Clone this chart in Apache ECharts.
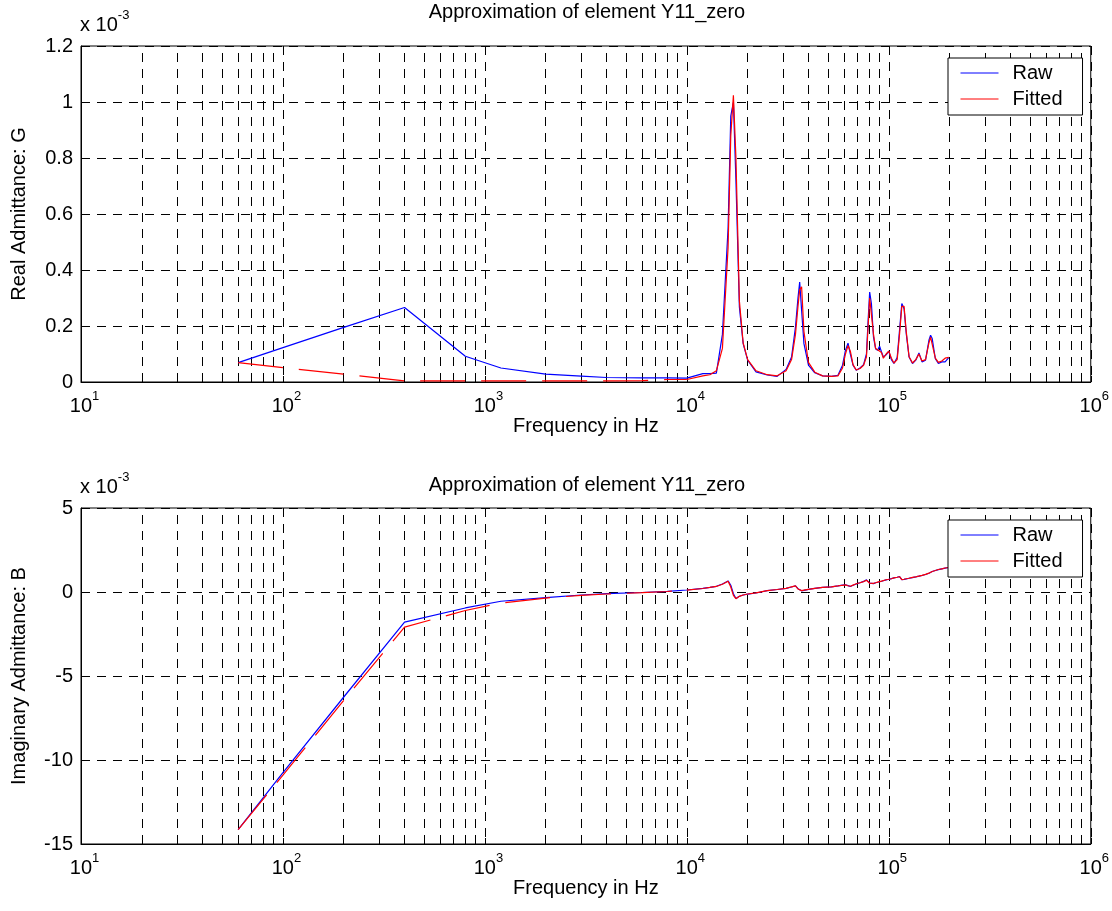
<!DOCTYPE html>
<html>
<head>
<meta charset="utf-8">
<title>Approximation of element Y11_zero</title>
<script src="https://cdn.jsdelivr.net/npm/echarts@6/dist/echarts.min.js"></script>
<style>
  html, body { margin: 0; padding: 0; background: #fff; }
  #main { width: 1112px; height: 911px; }
</style>
</head>
<body>
<div id="main"></div>
<script>
// frequency samples (Hz)
const freq = [60, 100, 200, 400, 800, 1200, 2000, 3000, 4000, 6000,
  8000, 10000, 12000, 13000, 14000, 15000, 16000, 16500, 17000, 17500,
  18200, 19000, 20000, 22000, 25000, 28000, 31000, 33000, 34500, 35500,
  36200, 37000, 38000, 40000, 43000, 47000, 52000, 56000, 59000, 61000,
  62800, 64500, 66500, 69000, 72000, 75000, 77500, 79000, 80400, 82000,
  84000, 86000, 88000, 90000, 92000, 94000, 97000, 100000, 103000, 106000,
  110000, 113000, 116000, 119000, 122000, 126000, 131000, 136000, 141000, 146000,
  152000, 158000, 161000, 164000, 170000, 176000, 183000, 190000, 198000];

// real part G, in units of 1e-3
const rawG = [0.069, 0.123, 0.195, 0.266, 0.092, 0.050, 0.028, 0.021, 0.016, 0.015,
  0.015, 0.014, 0.030, 0.030, 0.032, 0.170, 0.550, 0.950, 1.000, 0.720,
  0.268, 0.137, 0.078, 0.036, 0.025, 0.020, 0.045, 0.089, 0.196, 0.300,
  0.357, 0.256, 0.137, 0.060, 0.033, 0.022, 0.020, 0.024, 0.060, 0.113,
  0.139, 0.100, 0.060, 0.042, 0.050, 0.062, 0.100, 0.220, 0.321, 0.280,
  0.160, 0.119, 0.113, 0.128, 0.107, 0.089, 0.097, 0.110, 0.080, 0.066,
  0.087, 0.185, 0.280, 0.262, 0.173, 0.089, 0.066, 0.078, 0.104, 0.072,
  0.078, 0.149, 0.167, 0.155, 0.083, 0.066, 0.072, 0.072, 0.087];
const fitG = [0.069, 0.051, 0.028, 0.004, 0.004, 0.004, 0.004, 0.004, 0.004, 0.005,
  0.009, 0.009, 0.022, 0.026, 0.040, 0.120, 0.480, 0.880, 1.024, 0.800,
  0.290, 0.140, 0.080, 0.040, 0.026, 0.022, 0.040, 0.080, 0.170, 0.270,
  0.330, 0.340, 0.180, 0.070, 0.035, 0.022, 0.020, 0.022, 0.050, 0.100,
  0.130, 0.110, 0.062, 0.043, 0.048, 0.060, 0.090, 0.200, 0.300, 0.300,
  0.170, 0.120, 0.115, 0.120, 0.105, 0.085, 0.100, 0.110, 0.085, 0.068,
  0.080, 0.170, 0.270, 0.270, 0.180, 0.090, 0.068, 0.080, 0.100, 0.075,
  0.080, 0.140, 0.160, 0.160, 0.085, 0.070, 0.075, 0.085, 0.088];

// imaginary part B, in units of 1e-3
const rawB = [-14.15, -10.75, -6.25, -1.79, -0.95, -0.55, -0.33, -0.18, -0.10, -0.03,
  0.04, 0.12, 0.22, 0.28, 0.34, 0.48, 0.66, 0.40, -0.10, -0.39,
  -0.25, -0.18, -0.13, -0.06, 0.08, 0.15, 0.22, 0.30, 0.37, 0.20,
  0.10, 0.07, 0.10, 0.16, 0.22, 0.28, 0.30, 0.36, 0.41, 0.43,
  0.38, 0.33, 0.40, 0.48, 0.55, 0.63, 0.72, 0.62, 0.53, 0.47,
  0.50, 0.55, 0.58, 0.62, 0.64, 0.68, 0.72, 0.76, 0.80, 0.84,
  0.88, 0.92, 0.74, 0.75, 0.78, 0.82, 0.86, 0.90, 0.94, 0.98,
  1.04, 1.12, 1.18, 1.22, 1.28, 1.33, 1.38, 1.42, 1.46];
const fitB = [-14.15, -10.90, -6.45, -2.09, -1.10, -0.66, -0.36, -0.20, -0.12, -0.04,
  0.03, 0.11, 0.21, 0.27, 0.33, 0.46, 0.64, 0.30, -0.20, -0.40,
  -0.26, -0.18, -0.12, -0.05, 0.08, 0.15, 0.22, 0.31, 0.36, 0.18,
  0.09, 0.08, 0.11, 0.16, 0.22, 0.27, 0.31, 0.36, 0.40, 0.42,
  0.37, 0.34, 0.41, 0.49, 0.55, 0.62, 0.70, 0.60, 0.52, 0.48,
  0.51, 0.55, 0.59, 0.61, 0.65, 0.68, 0.73, 0.76, 0.79, 0.84,
  0.88, 0.91, 0.73, 0.76, 0.79, 0.82, 0.87, 0.90, 0.95, 0.99,
  1.05, 1.12, 1.17, 1.22, 1.28, 1.34, 1.38, 1.43, 1.46];

const seriesNames = ['Raw', 'Fitted'];
const plotTitle = 'Approximation of element Y11_zero';
const yNames = ['Real Admittance: G', 'Imaginary Admittance: B'];
const yRanges = [[0, 1.2, 0.2], [-15, 5, 5]];

// the fitted curve renders broken (dashed) below this frequency
const DASH_END = 10000;

const FONT = '"Liberation Sans", Arial, Helvetica, sans-serif';
const TOPS = [46, 508];
const TITLE_TOPS = [2, 475];
const XNAME_GAPS = [27, 32];
const LEFT = 81, WIDTH = 1012, HEIGHT = 336;

// minor log grid positions 2..9 per decade
const minorX = [];
for (let e = 1; e < 6; e++) {
  for (let k = 2; k < 10; k++) minorX.push(k * Math.pow(10, e));
}

const pairs = vals => freq.map((f, i) => [f, vals[i]]);
const lowPart = vals => pairs(vals).filter(p => p[0] <= DASH_END);
const highPart = vals => pairs(vals).filter(p => p[0] >= DASH_END);

const gridDash = { color: '#000', width: 1, type: [9, 7] };
const supRich = {
  b: { fontSize: 20, fontWeight: 'normal', color: '#000', fontFamily: FONT, verticalAlign: 'bottom' },
  s: { fontSize: 13, fontWeight: 'normal', color: '#000', fontFamily: FONT, verticalAlign: 'top', padding: [0, 0, 13, 0] }
};

const chart = echarts.init(document.getElementById('main'));

const grids = [], xAxes = [], yAxes = [], titles = [], legends = [], series = [];
const sets = [[rawG, fitG], [rawB, fitB]];

TOPS.forEach((top, gi) => {
  grids.push({ left: LEFT, top: top, width: WIDTH, height: HEIGHT, show: true,
    borderColor: '#000', borderWidth: 1, backgroundColor: '#fff' });

  xAxes.push({
    type: 'log', gridIndex: gi, logBase: 10, min: 10, max: 1e6,
    name: 'Frequency in Hz', nameLocation: 'middle', nameGap: XNAME_GAPS[gi],
    nameTextStyle: { fontSize: 20, color: '#000', fontFamily: FONT },
    axisLine: { onZero: false, lineStyle: { color: '#000', width: 1 } },
    axisTick: { inside: true, length: 6, lineStyle: { color: '#000' } },
    axisLabel: {
      margin: 8, showMinLabel: true, showMaxLabel: true,
      formatter: v => '{b|10}{s|' + Math.round(Math.log10(v)) + '}',
      rich: {
        b: Object.assign({}, supRich.b, { padding: [0, 0, 0, 7] }),
        s: supRich.s
      }
    },
    splitLine: { show: true, lineStyle: gridDash }
  });

  const r = yRanges[gi];
  yAxes.push({
    type: 'value', gridIndex: gi, min: r[0], max: r[1], interval: r[2],
    name: yNames[gi], nameLocation: 'middle', nameGap: 52, nameRotate: 90,
    nameTextStyle: { fontSize: 20, color: '#000', fontFamily: FONT },
    axisLine: { show: true, onZero: false, lineStyle: { color: '#000', width: 1 } },
    axisTick: { show: true, inside: true, length: 6, lineStyle: { color: '#000' } },
    axisLabel: { fontSize: 20, color: '#000', fontFamily: FONT, margin: 8 },
    splitLine: { show: true, lineStyle: gridDash }
  });

  titles.push({
    text: plotTitle, left: LEFT + WIDTH / 2, textAlign: 'center', top: TITLE_TOPS[gi], padding: 0,
    textStyle: { fontSize: 20, fontWeight: 'normal', color: '#000', fontFamily: FONT }
  });
  titles.push({
    text: '{b|x 10}{s|-3}', left: 80, top: top - 37, padding: 0,
    textStyle: { fontWeight: 'normal', rich: supRich }
  });

  legends.push({
    data: seriesNames, orient: 'vertical', left: 948, top: top + 12, z: 10,
    backgroundColor: '#fff', borderColor: '#000', borderWidth: 1, borderRadius: 0,
    padding: [5, 20, 6, 12], itemGap: 6, itemWidth: 38, itemHeight: 20,
    itemStyle: { opacity: 0, borderWidth: 0 },
    lineStyle: { width: 1 },
    textStyle: { fontSize: 20, color: '#000', fontFamily: FONT, padding: [0, 0, 0, 9] },
    selectedMode: false
  });

  // dashed minor grid lines of the log axis
  series.push({
    name: 'grid' + gi, type: 'line', xAxisIndex: gi, yAxisIndex: gi, data: [], z: 1,
    markLine: { silent: true, z: 1, symbol: ['none', 'none'], label: { show: false },
      lineStyle: gridDash, emphasis: { disabled: true },
      data: minorX.map(v => ({ xAxis: v })) }
  });

  const [raw, fit] = sets[gi];
  series.push({
    name: 'Raw', type: 'line', xAxisIndex: gi, yAxisIndex: gi, z: 3,
    symbol: 'none', lineStyle: { color: '#0000ff', width: 1.2 }, itemStyle: { color: '#0000ff' },
    data: pairs(raw)
  });
  series.push({
    name: 'Fitted', type: 'line', xAxisIndex: gi, yAxisIndex: gi, z: 3,
    symbol: 'none', lineStyle: { color: '#ff0000', width: 1.2 }, itemStyle: { color: '#ff0000' },
    data: highPart(fit)
  });
  series.push({
    name: 'Fitted', type: 'line', xAxisIndex: gi, yAxisIndex: gi, z: 3,
    symbol: 'none', lineStyle: { color: '#ff0000', width: 1.2, type: [45, 16] }, itemStyle: { color: '#ff0000' },
    data: lowPart(fit)
  });
});

chart.setOption({
  backgroundColor: '#fff',
  animation: false,
  textStyle: { fontFamily: FONT },
  title: titles,
  legend: legends,
  grid: grids,
  xAxis: xAxes,
  yAxis: yAxes,
  series: series
});
</script>
</body>
</html>
